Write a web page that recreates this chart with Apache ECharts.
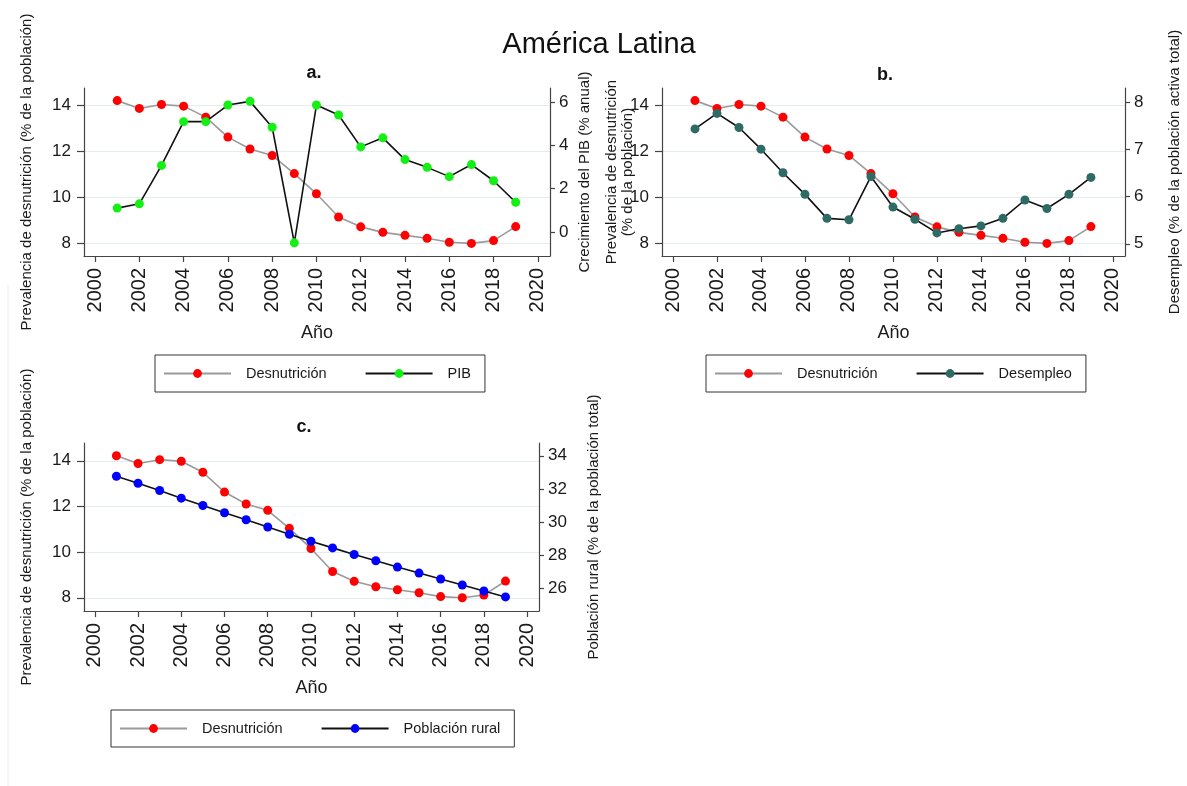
<!DOCTYPE html>
<html><head><meta charset="utf-8">
<script src="https://cdn.jsdelivr.net/npm/echarts@6/dist/echarts.min.js"></script>
<style>html,body{margin:0;padding:0;background:#fff}#chart{width:1187px;height:786px}</style>
</head><body><div id="chart"></div>
<script>
// ---- data ----
const years = [2001,2002,2003,2004,2005,2006,2007,2008,2009,2010,2011,2012,2013,2014,2015,2016,2017,2018,2019];
const desnutricion = [14.22,13.88,14.05,13.98,13.50,12.63,12.11,11.83,11.04,10.16,9.15,8.72,8.48,8.35,8.22,8.05,8.00,8.12,8.73];
const pib = [1.10,1.30,3.08,5.11,5.11,5.88,6.05,4.85,-0.51,5.88,5.42,3.94,4.36,3.35,2.99,2.56,3.12,2.37,1.37];
const desempleo = [7.44,7.77,7.47,7.01,6.51,6.05,5.54,5.51,6.43,5.78,5.52,5.23,5.32,5.38,5.54,5.93,5.75,6.05,6.41];
const poblacionRural = [32.76,32.34,31.90,31.44,31.00,30.56,30.14,29.70,29.26,28.84,28.44,28.04,27.66,27.28,26.92,26.56,26.20,25.84,25.48];
const yearTicks = [2000,2002,2004,2006,2008,2010,2012,2014,2016,2018,2020];
const desnutTicks = [8,10,12,14];
const pibTicks = [0,2,4,6];
const desempleoTicks = [5,6,7,8];
const ruralTicks = [26,28,30,32,34];

const FONT = "'Liberation Sans', Arial, Helvetica, sans-serif";
const AX = '#444';
const TXT = '#1a1a1a';
const pairs = vals => years.map((y, i) => [y, vals[i]]);

function xAxis(g) {
  return {
    type: 'value', gridIndex: g, min: 1999.5, max: 2020.55,
    axisLine: { show: true, onZero: false, lineStyle: { color: AX, width: 1.2 } },
    axisTick: { show: true, length: 6, customValues: yearTicks, lineStyle: { color: AX, width: 1.2 } },
    axisLabel: { customValues: yearTicks, formatter: v => String(v), rotate: 90, fontSize: 20, margin: 12, color: TXT, fontFamily: FONT },
    splitLine: { show: false },
    name: 'Año', nameLocation: 'middle', nameGap: 68, nameMoveOverlap: false,
    nameTextStyle: { fontSize: 18, color: TXT, fontFamily: FONT }
  };
}
function leftAxis(g, name, gap, min, max) {
  return {
    type: 'value', gridIndex: g, position: 'left', min: min, max: max,
    axisLine: { show: true, onZero: false, lineStyle: { color: AX, width: 1.2 } },
    axisTick: { show: true, length: 7, customValues: desnutTicks, lineStyle: { color: AX, width: 1.2 } },
    axisLabel: { customValues: desnutTicks, fontSize: 17, margin: 13, color: TXT, fontFamily: FONT },
    splitLine: { show: true, lineStyle: { color: '#e3edef', width: 1.2 } },
    name: name, nameLocation: 'middle', nameGap: gap, nameMoveOverlap: false,
    nameTextStyle: { fontSize: 15, lineHeight: 16, color: TXT, fontFamily: FONT }
  };
}
function rightAxis(g, name, gap, min, max, ticks) {
  return {
    type: 'value', gridIndex: g, position: 'right', min: min, max: max,
    axisLine: { show: true, onZero: false, lineStyle: { color: AX, width: 1.2 } },
    axisTick: { show: true, length: 5, customValues: ticks, lineStyle: { color: AX, width: 1.2 } },
    axisLabel: { customValues: ticks, fontSize: 17, margin: 9, color: TXT, fontFamily: FONT },
    splitLine: { show: false },
    name: name, nameLocation: 'middle', nameGap: gap, nameMoveOverlap: false,
    nameTextStyle: { fontSize: 15, color: TXT, fontFamily: FONT }
  };
}
function desnutSeries(g) {
  return {
    type: 'line', name: 'Desnutrición', xAxisIndex: g, yAxisIndex: 2 * g,
    data: pairs(desnutricion), symbol: 'circle', symbolSize: 9,
    itemStyle: { color: '#ff0000' }, lineStyle: { color: '#9a9a9a', width: 1.6 },
    z: 2, animation: false
  };
}
function otherSeries(g, name, vals, color) {
  return {
    type: 'line', name: name, xAxisIndex: g, yAxisIndex: 2 * g + 1,
    data: pairs(vals), symbol: 'circle', symbolSize: 9,
    itemStyle: { color: color }, lineStyle: { color: '#111111', width: 1.6 },
    z: 3, animation: false
  };
}
function legend(left, top, items) {
  return {
    left: left, top: top, orient: 'horizontal', data: items,
    padding: [11, 14, 11, 8], borderColor: '#333', borderWidth: 1, borderRadius: 0,
    itemWidth: 67, itemHeight: 11, itemGap: 38, selectedMode: false,
    textStyle: { fontSize: 14.5, color: TXT, fontFamily: FONT, padding: [0, 0, 0, 10] }
  };
}

const option = {
  backgroundColor: '#ffffff',
  animation: false,
  title: [
    { text: 'América Latina', left: 599, top: 30, textAlign: 'center', padding: 0,
      textStyle: { fontSize: 29, fontWeight: 'normal', color: '#111', fontFamily: FONT } },
    { text: 'a.', left: 314, top: 64, textAlign: 'center', padding: 0,
      textStyle: { fontSize: 18, fontWeight: 'bold', color: '#111', fontFamily: FONT } },
    { text: 'b.', left: 885, top: 66, textAlign: 'center', padding: 0,
      textStyle: { fontSize: 18, fontWeight: 'bold', color: '#111', fontFamily: FONT } },
    { text: 'c.', left: 304, top: 418, textAlign: 'center', padding: 0,
      textStyle: { fontSize: 18, fontWeight: 'bold', color: '#111', fontFamily: FONT } }
  ],
  grid: [
    { left: 84, top: 88, width: 466, height: 168, outerBoundsMode: 'none' },
    { left: 662, top: 88, width: 463, height: 168, outerBoundsMode: 'none' },
    { left: 84, top: 443, width: 455, height: 168, outerBoundsMode: 'none' }
  ],
  xAxis: [xAxis(0), xAxis(1), xAxis(2)],
  yAxis: [
    leftAxis(0, 'Prevalencia de desnutrición (% de la población)', 49, 7.45, 14.77),
    rightAxis(0, 'Crecimiento del PIB (% anual)', 27, -1.12, 6.67, pibTicks),
    leftAxis(1, 'Prevalencia de desnutrición\n(% de la población)', 26, 7.45, 14.77),
    rightAxis(1, 'Desempleo (% de la población activa total)', 42, 4.74, 8.31, desempleoTicks),
    leftAxis(2, 'Prevalencia de desnutrición (% de la población)', 49, 7.42, 14.78),
    rightAxis(2, 'Población rural (% de la población total)', 47, 24.63, 34.77, ruralTicks)
  ],
  legend: [
    legend(155, 355, ['Desnutrición', 'PIB']),
    legend(706, 355, ['Desnutrición', 'Desempleo']),
    legend(111, 710, ['Desnutrición', 'Población rural'])
  ],
  series: [
    desnutSeries(0), otherSeries(0, 'PIB', pib, '#14f014'),
    desnutSeries(1), otherSeries(1, 'Desempleo', desempleo, '#2e6b64'),
    desnutSeries(2), otherSeries(2, 'Población rural', poblacionRural, '#0000ff')
  ],
  graphic: [
    { type: 'line', shape: { x1: 8, y1: 285, x2: 8, y2: 786 }, style: { stroke: '#ececec', lineWidth: 1 }, silent: true }
  ]
};

const chart = echarts.init(document.getElementById('chart'), null, { renderer: 'canvas' });
chart.setOption(option);
</script>
</body></html>
